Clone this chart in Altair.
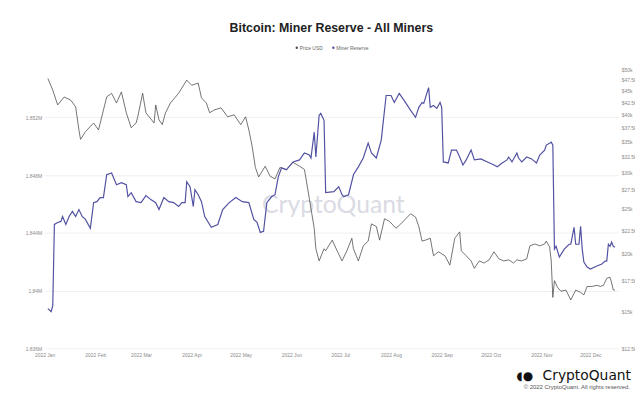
import altair as alt
import pandas as pd

# ---- data ----
# day offsets from 2022-01-01
reserve_days = [2, 4, 5, 6, 8, 10, 11, 13, 15, 17, 19, 21, 23, 25, 28, 30, 32, 34, 36, 38,
                41, 44, 47, 50, 51, 53, 56, 59, 62, 65, 68, 70, 73, 76, 79, 82, 84, 86, 87, 89,
                91, 92, 94, 96, 98, 102, 106, 109, 113, 117, 121, 125, 128, 130, 132, 134, 136, 139, 141, 143,
                145, 148, 152, 156, 159, 162, 163, 165, 166, 168, 169, 171, 172, 177, 180, 182, 183, 186, 189, 192,
                195, 198, 200, 203, 206, 209, 212, 214, 217, 220, 224, 227, 229, 231, 232, 235, 236, 238, 240, 242,
                243, 244, 247, 249, 252, 254, 256, 258, 261, 263, 267, 271, 275, 277, 280, 283, 284, 286, 289, 290,
                292, 295, 298, 301, 303, 306, 307, 309, 310, 311, 312, 313, 315, 318, 321, 322, 324, 325, 327, 328,
                329, 330, 332, 334, 338, 341, 343, 344, 345, 346, 347, 348, 349]
# miner reserve, millions of BTC
reserve_m = [1.83875, 1.83854, 1.83895, 1.84458, 1.84472, 1.84479, 1.84513, 1.84458, 1.84513, 1.84548,
             1.84513, 1.84561, 1.84513, 1.84493, 1.84431, 1.84609, 1.84616, 1.84644, 1.84644, 1.84802,
             1.84815, 1.84733, 1.84747, 1.84733, 1.84651, 1.84678, 1.84616, 1.84609, 1.84658, 1.84630,
             1.84609, 1.84561, 1.84644, 1.84616, 1.84609, 1.84582, 1.84609, 1.84609, 1.84754, 1.84719,
             1.84582, 1.84699, 1.84664, 1.84616, 1.84513, 1.84438, 1.84458, 1.84561, 1.84609, 1.84644,
             1.84616, 1.84609, 1.84493, 1.84472, 1.84403, 1.84410, 1.84609, 1.84651, 1.84664, 1.84788,
             1.84850, 1.84836, 1.84891, 1.84905, 1.84953, 1.84939, 1.84918, 1.85097, 1.84925, 1.85214,
             1.85227, 1.85179, 1.84678, 1.84685, 1.84719, 1.84664, 1.84651, 1.84664, 1.84802, 1.84857,
             1.84918, 1.85021, 1.84953, 1.84918, 1.85042, 1.85351, 1.85351, 1.85303, 1.85365, 1.85317,
             1.85248, 1.85200, 1.85269, 1.85303, 1.85296, 1.85406, 1.85269, 1.85282, 1.85262, 1.85303,
             1.85269, 1.84891, 1.84884, 1.84973, 1.84973, 1.84925, 1.84870, 1.84905, 1.84973, 1.84905,
             1.84912, 1.84891, 1.84870, 1.84857, 1.84884, 1.84905, 1.84925, 1.84891, 1.84953, 1.84918,
             1.84891, 1.84925, 1.84912, 1.84884, 1.84939, 1.84973, 1.85008, 1.85021, 1.85028, 1.85008,
             1.84287, 1.84307, 1.84232, 1.84287, 1.84321, 1.84321, 1.84438, 1.84321, 1.84321, 1.84445,
             1.84287, 1.84197, 1.84163, 1.84149, 1.84170, 1.84184, 1.84204, 1.84204, 1.84321, 1.84307,
             1.84335, 1.84307, 1.84300]

price_days = [2, 5, 8, 12, 16, 19, 21, 22, 25, 30, 33, 38, 41, 44, 47, 50, 53, 56, 57, 60,
              62, 67, 68, 70, 72, 74, 77, 82, 87, 90, 94, 96, 99, 101, 104, 108, 112, 116, 120, 123,
              125, 127, 129, 131, 135, 138, 141, 144, 148, 152, 156, 159, 160, 162, 165, 166, 168, 171, 172, 176,
              179, 182, 185, 188, 189, 192, 195, 198, 200, 203, 205, 208, 211, 215, 218, 221, 224, 227, 229, 231,
              233, 236, 238, 241, 245, 248, 251, 254, 255, 258, 261, 263, 266, 269, 272, 275, 278, 281, 284, 287,
              289, 292, 295, 297, 300, 303, 306, 307, 309, 310, 311, 312, 314, 316, 319, 322, 325, 328, 330, 332,
              335, 338, 340, 342, 344, 346, 347, 348, 349]
# BTC price, thousands of USD
price_k = [47.8, 45.1, 41.9, 43.6, 42.9, 41.5, 37.0, 35.3, 36.7, 38.3, 37.0, 43.6, 44.4, 42.3, 44.7, 40.3,
           37.4, 38.3, 39.5, 44.4, 40.3, 38.3, 41.9, 38.9, 38.0, 40.3, 42.3, 44.4, 47.4, 46.2, 46.7, 43.4,
           42.3, 40.3, 40.9, 41.3, 39.5, 39.9, 38.0, 39.5, 37.0, 34.1, 30.7, 29.3, 30.9, 29.4, 29.0, 30.7,
           30.4, 31.5, 30.9, 30.4, 29.0, 26.3, 22.7, 20.5, 19.3, 20.5, 20.3, 21.4, 20.3, 19.3, 20.3, 21.6,
           20.5, 19.3, 20.8, 21.3, 23.2, 22.9, 21.4, 23.8, 23.5, 22.7, 23.2, 23.8, 24.4, 24.0, 22.9, 21.3,
           21.4, 21.6, 19.8, 20.2, 19.8, 18.9, 21.6, 22.3, 20.3, 19.8, 19.3, 18.6, 19.3, 19.1, 19.4, 20.2,
           19.5, 19.3, 19.4, 19.1, 19.4, 19.3, 19.5, 20.8, 21.0, 20.8, 21.0, 21.3, 20.7, 19.4, 16.1, 17.5,
           16.9, 16.6, 16.7, 15.9, 16.7, 16.5, 16.3, 17.0, 17.0, 17.1, 17.0, 17.1, 17.7, 17.8, 17.3, 16.7,
           16.7]

reserve_ticks = [1836000, 1840000, 1844000, 1848000, 1852000]
price_ticks = [12500, 15000, 17500, 20000, 22500, 25000, 27500, 30000, 32500, 35000,
               37500, 40000, 42500, 45000, 47500, 50000]
series_names = ["Price USD", "Miner Reserve"]
series_colors = ["#505050", "#5252a3"]

title_text = "Bitcoin: Miner Reserve - All Miners"
watermark_text = "CryptoQuant"
logo_text = "CryptoQuant"
copyright_text = "\u00a9 2022 CryptoQuant. All rights reserved."

# ---- tables ----
base = pd.Timestamp("2022-01-01")
reserve_df = pd.DataFrame({
    "date": [(base + pd.Timedelta(days=d)).strftime("%Y-%m-%d") for d in reserve_days],
    "reserve": [v * 1e6 for v in reserve_m],
})
price_df = pd.DataFrame({
    "date": [(base + pd.Timedelta(days=d)).strftime("%Y-%m-%d") for d in price_days],
    "price": [v * 1000 for v in price_k],
})

FONT = "Liberation Sans"
W, H = 580, 292

x_enc = alt.X(
    "date:T",
    scale=alt.Scale(domain=[alt.DateTime(year=2022, month=1, date=1),
                            alt.DateTime(year=2022, month=12, date=18)]),
    axis=alt.Axis(format="%Y %b", tickCount="month", labelFlush=False, labelOverlap=False,
                  grid=False, domain=False, ticks=False, labelFontSize=5,
                  labelColor="#8a8a8a", labelPadding=4, title=None),
)

price_line = alt.Chart(price_df).mark_line(color=series_colors[0], strokeWidth=0.8).encode(
    x=x_enc,
    y=alt.Y("price:Q",
            scale=alt.Scale(type="log", domain=[12500, 52500], nice=False),
            axis=alt.Axis(orient="right", values=price_ticks,
                          labelExpr="'$' + format(datum.value / 1000, '~g') + 'k'",
                          grid=False, domain=False, ticks=False, labelFontSize=5,
                          labelColor="#8a8a8a", labelPadding=3, title=None)),
)

reserve_line = alt.Chart(reserve_df).mark_line(color=series_colors[1], strokeWidth=1.2).encode(
    x=x_enc,
    y=alt.Y("reserve:Q",
            scale=alt.Scale(domain=[1836000, 1856000], nice=False, zero=False),
            axis=alt.Axis(orient="left", values=reserve_ticks, format=".4~s",
                          grid=True, gridColor="#ebebeb", gridWidth=0.8,
                          domain=False, ticks=False, labelFontSize=5,
                          labelColor="#8a8a8a", labelPadding=3, title=None)),
)

one = pd.DataFrame({"k": [0]})

watermark = alt.Chart(one).mark_text(
    text=watermark_text, fontSize=25, font="Lato", color="#dadbe3", align="center", baseline="middle"
).encode(x=alt.value(292), y=alt.value(147))

legend_dots = alt.Chart(pd.DataFrame({"name": series_names[:1]})).mark_circle(
    size=6, opacity=1, color=series_colors[0]).encode(x=alt.value(255), y=alt.value(-12))
legend_dots2 = alt.Chart(pd.DataFrame({"name": series_names[1:]})).mark_circle(
    size=6, opacity=1, color=series_colors[1]).encode(x=alt.value(292), y=alt.value(-12))
legend_t1 = alt.Chart(one).mark_text(
    text=series_names[0], fontSize=5, font=FONT, color="#666", align="left", baseline="middle"
).encode(x=alt.value(258), y=alt.value(-12))
legend_t2 = alt.Chart(one).mark_text(
    text=series_names[1], fontSize=5, font=FONT, color="#666", align="left", baseline="middle"
).encode(x=alt.value(295), y=alt.value(-12))

logo_icon = alt.Chart(one).mark_text(
    text="\u25d6\u25cf", fontSize=12, font="DejaVu Sans", color="#111", align="right", baseline="middle"
).encode(x=alt.value(494), y=alt.value(320))
logo = alt.Chart(one).mark_text(
    text=logo_text, fontSize=14, font="DejaVu Sans", color="#111", align="right", baseline="middle"
).encode(x=alt.value(593), y=alt.value(320))
copyright_ = alt.Chart(one).mark_text(
    text=copyright_text, fontSize=6, font=FONT, color="#555", align="right", baseline="middle"
).encode(x=alt.value(592), y=alt.value(331))

chart = alt.layer(
    watermark, price_line, reserve_line,
    legend_dots, legend_dots2, legend_t1, legend_t2,
    logo_icon, logo, copyright_,
).resolve_scale(y="independent").properties(
    width=W, height=H,
    title=alt.TitleParams(title_text, fontSize=12.5, font=FONT, fontWeight="bold", color="#222",
                          anchor="middle", frame="group", baseline="middle", offset=5),
    padding={"left": 37, "top": 50, "right": 17, "bottom": 40},
    autosize=alt.AutoSizeParams(type="none"),
).configure(font=FONT).configure_view(stroke=None)

chart.save("out.html", embed_options={"renderer": "svg", "actions": False})
